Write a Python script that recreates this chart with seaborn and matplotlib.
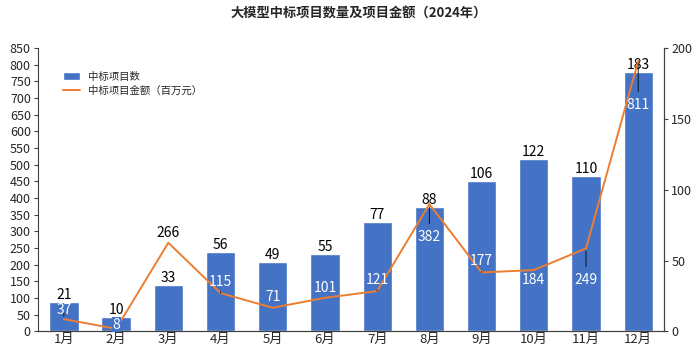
import numpy as np
import pandas as pd
import matplotlib
matplotlib.use("Agg")
import matplotlib.pyplot as plt
import seaborn as sns

# 数据
months = ["1月", "2月", "3月", "4月", "5月", "6月", "7月", "8月", "9月", "10月", "11月", "12月"]
project_counts = [21, 10, 33, 56, 49, 55, 77, 88, 106, 122, 110, 183]
project_amounts = [37, 8, 266, 115, 71, 101, 121, 382, 177, 184, 249, 811]

# 金额标签位置（左轴数值）及是否画引线
amount_label_y = [65, 20, 296, 149, 102, 131, 155, 284, 210, 155, 155, 680]
amount_label_color = ["white", "white", "black"] + ["white"] * 9
amount_leader = [True, False, False, True, False, False, True, True, True, False, True, True]

sns.set_theme(style="white")
plt.rcParams["font.family"] = ["Noto Sans CJK SC", "DejaVu Sans"]

df = pd.DataFrame({"month": months, "count": project_counts, "amount": project_amounts})

fig, ax = plt.subplots(figsize=(7, 3.53), dpi=100)
fig.subplots_adjust(left=0.054, right=0.949, bottom=0.061, top=0.864)

bar_color = "#4472C4"
line_color = "#ED7D31"

# 柱：中标项目数（右轴）
sns.barplot(data=df, x="month", y="count", color=bar_color, width=0.56,
            saturation=1, ax=ax, label="中标项目数")
ax.bar_label(ax.containers[0], padding=0, fontsize=10, color="black")
ax.set_ylim(0, 200)
ax.set_yticks(np.arange(0, 201, 50))
ax.set_xlim(-0.5, len(months) - 0.5)

# 线：中标项目金额（左轴）
ax2 = ax.twinx()
sns.lineplot(data=df, x="month", y="amount", color=line_color, linewidth=1.4,
             ax=ax2, label="中标项目金额（百万元）", sort=False)
ax2.set_ylim(0, 850)
ax2.set_yticks(np.arange(0, 851, 50))
ax2.yaxis.tick_left()
ax.yaxis.tick_right()

for i, (v, ly, c, lead) in enumerate(zip(project_amounts, amount_label_y,
                                          amount_label_color, amount_leader)):
    ap = dict(arrowstyle="-", color="black", lw=0.6) if lead else None
    bb = dict(boxstyle="square,pad=0.05", fc=bar_color, ec="none") if c == "white" and v < 10 else None
    ax2.annotate(str(v), xy=(i, v), xytext=(i, ly), ha="center", va="center",
                 fontsize=10, color=c, arrowprops=ap, bbox=bb)

for a in (ax, ax2):
    a.set_xlabel("")
    a.set_ylabel("")
    a.spines["top"].set_visible(False)
    for s in ("left", "right", "bottom"):
        a.spines[s].set_color("#404040")
        a.spines[s].set_linewidth(0.8)
    a.tick_params(axis="y", length=3, width=0.8, color="#404040",
                  labelsize=9, pad=2, direction="out")

ax.tick_params(axis="x", length=0, labelsize=9.5, pad=1)
ax2.spines["left"].set_visible(True)
ax2.spines["right"].set_visible(True)
ax.spines["left"].set_visible(False)

# 图例
h1, l1 = ax.get_legend_handles_labels()
h2, l2 = ax2.get_legend_handles_labels()
if ax.get_legend():
    ax.get_legend().remove()
if ax2.get_legend():
    ax2.get_legend().remove()
ax2.legend(h1 + h2, l1 + l2, loc="upper left", bbox_to_anchor=(0.025, 0.95),
           frameon=False, fontsize=7.5, handlelength=1.6, handleheight=0.9,
           labelspacing=0.4)

fig.text(0.513, 0.96, "大模型中标项目数量及项目金额（2024年）", ha="center", va="center",
         fontsize=9.5, fontweight="bold")

fig.savefig("out.png", dpi=100)
